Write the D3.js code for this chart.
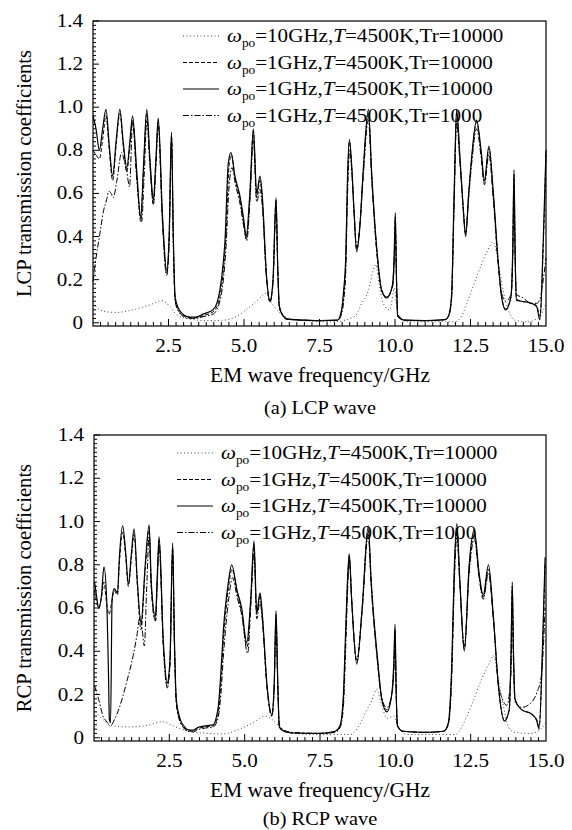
<!DOCTYPE html>
<html>
<head>
<meta charset="utf-8">
<script src="https://cdn.jsdelivr.net/npm/d3@7"></script>
<style>
  body { margin: 0; background: #fff; }
  text { font-family: "Liberation Serif", "Times New Roman", serif; fill: #000; }
</style>
</head>
<body>
<svg id="svg" width="572" height="830"></svg>
<script>
// values: [frequency GHz, transmission]
const lcpDotted = [[0,0.09],[0.23,0.06],[0.5,0.05],[0.78,0.048],[1.31,0.06],[1.89,0.083],[2.27,0.103],[2.55,0.075],[2.77,0.037],[3.21,0.017],[3.77,0.01],[4.33,0.012],[4.76,0.03],[5.2,0.075],[5.53,0.115],[5.7,0.137],[5.92,0.09],[6.19,0.045],[6.5,0.02],[7.0,0.01],[8.0,0.005],[8.67,0.03],[8.9,0.09],[9.12,0.15],[9.28,0.245],[9.37,0.27],[9.44,0.21],[9.61,0.09],[9.83,0.06],[9.98,0.16],[10.1,0.03],[10.4,0.005],[12.0,0.005],[12.2,0.03],[12.42,0.105],[12.75,0.23],[13.08,0.34],[13.25,0.376],[13.42,0.28],[13.58,0.15],[13.75,0.06],[13.97,0.012],[14.4,0.005],[14.8,0.03],[15.0,0.09]];

const lcpDashed = [[0,0.80],[0.1,0.78],[0.21,0.76],[0.32,0.85],[0.43,0.96],[0.54,0.8],[0.65,0.66],[0.77,0.83],[0.89,0.97],[1.0,0.82],[1.12,0.70],[1.22,0.82],[1.31,0.94],[1.45,0.68],[1.58,0.47],[1.68,0.73],[1.78,0.97],[1.89,0.73],[2.0,0.55],[2.08,0.73],[2.16,0.93],[2.3,0.48],[2.44,0.23],[2.52,0.38],[2.6,0.87],[2.66,0.38],[2.72,0.11],[2.82,0.06],[2.94,0.04],[3.1,0.025],[3.3,0.022],[3.5,0.025],[3.64,0.033],[3.97,0.05],[4.1,0.075],[4.2,0.12],[4.3,0.22],[4.4,0.4],[4.5,0.72],[4.58,0.78],[4.7,0.67],[4.87,0.57],[5.0,0.45],[5.08,0.39],[5.2,0.6],[5.31,0.89],[5.42,0.58],[5.53,0.66],[5.6,0.58],[5.75,0.2],[5.86,0.095],[5.96,0.19],[6.06,0.57],[6.12,0.24],[6.17,0.07],[6.3,0.03],[6.41,0.017],[7.0,0.012],[7.5,0.01],[8.1,0.012],[8.23,0.05],[8.3,0.13],[8.37,0.28],[8.43,0.66],[8.49,0.84],[8.57,0.71],[8.65,0.5],[8.73,0.34],[8.84,0.46],[8.94,0.68],[9.12,0.97],[9.23,0.68],[9.4,0.33],[9.56,0.15],[9.73,0.12],[9.91,0.17],[9.97,0.29],[10.01,0.49],[10.05,0.2],[10.09,0.03],[10.33,0.012],[11.0,0.01],[11.66,0.015],[11.77,0.03],[11.87,0.11],[11.96,0.59],[12.04,0.97],[12.15,0.76],[12.25,0.55],[12.34,0.41],[12.44,0.6],[12.54,0.76],[12.70,0.93],[12.85,0.79],[12.96,0.65],[13.11,0.81],[13.25,0.6],[13.42,0.27],[13.53,0.12],[13.66,0.065],[13.84,0.12],[13.9,0.34],[13.94,0.69],[13.98,0.3],[14.02,0.11],[14.19,0.1],[14.52,0.09],[14.69,0.08],[14.8,0.03],[14.91,0.36],[15.0,0.78]];

const lcpSolid = [[0,0.96],[0.1,0.9],[0.21,0.80],[0.32,0.9],[0.43,0.99],[0.54,0.82],[0.65,0.68],[0.77,0.85],[0.89,0.99],[1.0,0.84],[1.12,0.72],[1.22,0.84],[1.31,0.96],[1.45,0.7],[1.58,0.49],[1.68,0.75],[1.78,0.99],[1.89,0.75],[2.0,0.57],[2.08,0.75],[2.16,0.95],[2.3,0.5],[2.44,0.245],[2.52,0.4],[2.6,0.885],[2.66,0.4],[2.72,0.12],[2.82,0.07],[2.94,0.045],[3.1,0.03],[3.3,0.026],[3.5,0.03],[3.64,0.04],[3.97,0.06],[4.1,0.09],[4.2,0.15],[4.3,0.26],[4.37,0.38],[4.48,0.74],[4.57,0.79],[4.7,0.68],[4.87,0.585],[5.0,0.47],[5.07,0.40],[5.2,0.615],[5.31,0.90],[5.42,0.6],[5.53,0.68],[5.6,0.6],[5.75,0.21],[5.86,0.10],[5.96,0.2],[6.06,0.58],[6.12,0.25],[6.17,0.075],[6.3,0.03],[6.41,0.017],[7.0,0.012],[7.5,0.01],[8.1,0.012],[8.23,0.06],[8.3,0.15],[8.37,0.31],[8.43,0.69],[8.49,0.85],[8.57,0.72],[8.65,0.5],[8.73,0.33],[8.84,0.45],[8.94,0.69],[9.12,0.99],[9.23,0.69],[9.4,0.34],[9.56,0.15],[9.73,0.115],[9.91,0.17],[9.97,0.3],[10.01,0.51],[10.05,0.2],[10.09,0.03],[10.33,0.012],[11.0,0.01],[11.66,0.015],[11.77,0.03],[11.87,0.12],[11.96,0.615],[12.04,0.99],[12.15,0.77],[12.25,0.55],[12.34,0.40],[12.44,0.6],[12.54,0.77],[12.70,0.94],[12.85,0.8],[12.96,0.66],[13.11,0.82],[13.25,0.615],[13.42,0.28],[13.53,0.12],[13.66,0.06],[13.84,0.12],[13.9,0.35],[13.94,0.71],[13.98,0.3],[14.02,0.105],[14.19,0.1],[14.52,0.09],[14.69,0.075],[14.8,0.014],[14.91,0.385],[15.0,0.8]];

const lcpDashDot = [[0,0.19],[0.1,0.3],[0.23,0.415],[0.35,0.52],[0.45,0.57],[0.52,0.61],[0.6,0.6],[0.67,0.58],[0.78,0.65],[0.95,0.79],[1.0,0.77],[1.12,0.7],[1.21,0.63],[1.31,0.93],[1.45,0.66],[1.61,0.47],[1.7,0.7],[1.78,0.94],[1.89,0.72],[2.0,0.55],[2.08,0.72],[2.16,0.91],[2.3,0.46],[2.44,0.22],[2.52,0.36],[2.6,0.85],[2.66,0.36],[2.72,0.1],[2.82,0.055],[2.94,0.035],[3.1,0.022],[3.3,0.02],[3.5,0.022],[3.64,0.028],[3.97,0.04],[4.1,0.06],[4.2,0.1],[4.3,0.18],[4.4,0.34],[4.5,0.62],[4.6,0.72],[4.72,0.64],[4.87,0.55],[5.0,0.44],[5.09,0.38],[5.2,0.57],[5.31,0.85],[5.42,0.56],[5.53,0.62],[5.6,0.55],[5.75,0.2],[5.86,0.1],[5.96,0.18],[6.06,0.52],[6.12,0.23],[6.17,0.08],[6.3,0.035],[6.41,0.02],[7.0,0.012],[7.5,0.01],[8.1,0.012],[8.23,0.04],[8.3,0.1],[8.37,0.24],[8.43,0.6],[8.5,0.8],[8.57,0.7],[8.65,0.5],[8.73,0.35],[8.84,0.46],[8.94,0.66],[9.12,0.94],[9.23,0.66],[9.4,0.32],[9.56,0.15],[9.73,0.12],[9.91,0.16],[9.97,0.26],[10.01,0.42],[10.05,0.2],[10.09,0.04],[10.33,0.012],[11.0,0.01],[11.66,0.015],[11.77,0.03],[11.87,0.1],[11.96,0.55],[12.04,0.93],[12.15,0.74],[12.25,0.55],[12.34,0.42],[12.44,0.58],[12.54,0.74],[12.70,0.9],[12.85,0.77],[12.96,0.64],[13.11,0.78],[13.25,0.58],[13.42,0.27],[13.53,0.14],[13.66,0.1],[13.84,0.13],[13.9,0.3],[13.94,0.6],[13.98,0.3],[14.02,0.13],[14.19,0.12],[14.52,0.09],[14.69,0.09],[14.8,0.11],[14.91,0.2],[15.0,0.3]];

const rcpDotted = [[0.05,0.12],[0.33,0.08],[0.6,0.055],[1.2,0.05],[1.86,0.06],[2.25,0.074],[2.63,0.055],[2.9,0.04],[3.4,0.025],[4.3,0.018],[4.83,0.04],[5.28,0.07],[5.68,0.10],[5.95,0.08],[6.25,0.04],[6.6,0.02],[7.5,0.015],[8.5,0.015],[8.77,0.05],[8.99,0.11],[9.27,0.19],[9.37,0.225],[9.55,0.15],[9.72,0.09],[9.95,0.1],[10.1,0.05],[10.4,0.015],[12.0,0.015],[12.2,0.05],[12.53,0.15],[12.86,0.27],[13.14,0.35],[13.25,0.38],[13.42,0.27],[13.58,0.15],[13.75,0.05],[13.97,0.025],[14.5,0.02],[14.9,0.05],[15.0,0.07]];

const rcpDashed = [[0.02,0.68],[0.08,0.63],[0.16,0.6],[0.25,0.65],[0.33,0.72],[0.42,0.62],[0.5,0.57],[0.58,0.62],[0.67,0.68],[0.78,0.66],[0.84,0.8],[0.95,0.95],[1.05,0.84],[1.14,0.7],[1.24,0.83],[1.33,0.94],[1.44,0.7],[1.56,0.5],[1.7,0.78],[1.83,0.96],[1.9,0.7],[2.04,0.54],[2.1,0.73],[2.16,0.91],[2.3,0.43],[2.43,0.24],[2.52,0.34],[2.61,0.88],[2.67,0.43],[2.73,0.17],[2.85,0.08],[2.98,0.05],[3.1,0.033],[3.3,0.03],[3.41,0.04],[3.7,0.05],[3.96,0.055],[4.05,0.075],[4.13,0.12],[4.21,0.25],[4.29,0.44],[4.46,0.69],[4.58,0.78],[4.75,0.67],[4.9,0.58],[5.08,0.42],[5.2,0.62],[5.31,0.89],[5.4,0.57],[5.51,0.66],[5.58,0.57],[5.75,0.22],[5.9,0.1],[5.98,0.24],[6.04,0.57],[6.1,0.24],[6.15,0.05],[6.3,0.03],[6.6,0.022],[7.5,0.02],[8.0,0.028],[8.16,0.05],[8.27,0.16],[8.35,0.46],[8.42,0.73],[8.47,0.84],[8.55,0.64],[8.72,0.35],[8.9,0.6],[9.1,0.96],[9.2,0.71],[9.4,0.37],[9.55,0.18],[9.72,0.13],[9.88,0.2],[9.95,0.33],[9.99,0.5],[10.03,0.2],[10.07,0.055],[10.25,0.03],[11.0,0.025],[11.6,0.03],[11.76,0.065],[11.87,0.3],[11.96,0.77],[12.04,0.97],[12.14,0.72],[12.29,0.41],[12.45,0.78],[12.62,0.94],[12.78,0.75],[12.92,0.65],[13.09,0.78],[13.25,0.56],[13.42,0.24],[13.62,0.08],[13.78,0.13],[13.84,0.38],[13.88,0.7],[13.92,0.4],[13.97,0.18],[14.19,0.13],[14.52,0.11],[14.69,0.085],[14.77,0.05],[14.89,0.42],[14.97,0.81]];

const rcpSolid = [[0.02,0.72],[0.08,0.66],[0.16,0.6],[0.25,0.66],[0.33,0.79],[0.42,0.64],[0.48,0.3],[0.51,0.085],[0.55,0.07],[0.6,0.64],[0.67,0.69],[0.78,0.67],[0.84,0.83],[0.95,0.98],[1.05,0.86],[1.14,0.71],[1.24,0.85],[1.33,0.966],[1.44,0.72],[1.56,0.53],[1.7,0.8],[1.83,0.985],[1.9,0.72],[2.04,0.56],[2.1,0.75],[2.16,0.93],[2.3,0.45],[2.43,0.255],[2.52,0.36],[2.61,0.90],[2.67,0.45],[2.73,0.18],[2.85,0.09],[2.98,0.055],[3.1,0.038],[3.3,0.035],[3.41,0.045],[3.7,0.055],[3.96,0.06],[4.05,0.09],[4.13,0.15],[4.21,0.3],[4.29,0.49],[4.46,0.72],[4.57,0.80],[4.75,0.68],[4.9,0.6],[5.07,0.44],[5.2,0.64],[5.31,0.91],[5.4,0.58],[5.51,0.67],[5.58,0.58],[5.75,0.23],[5.9,0.108],[5.98,0.25],[6.04,0.587],[6.1,0.25],[6.15,0.05],[6.3,0.03],[6.6,0.022],[7.5,0.02],[8.0,0.03],[8.16,0.054],[8.27,0.18],[8.35,0.49],[8.42,0.75],[8.47,0.85],[8.55,0.64],[8.72,0.34],[8.9,0.6],[9.1,0.98],[9.2,0.72],[9.4,0.38],[9.55,0.18],[9.72,0.12],[9.88,0.2],[9.95,0.35],[9.99,0.525],[10.03,0.2],[10.07,0.054],[10.25,0.03],[11.0,0.025],[11.6,0.03],[11.76,0.07],[11.87,0.33],[11.96,0.80],[12.04,0.99],[12.14,0.73],[12.29,0.40],[12.45,0.8],[12.62,0.96],[12.78,0.76],[12.92,0.66],[13.09,0.80],[13.25,0.57],[13.42,0.24],[13.62,0.077],[13.78,0.13],[13.84,0.4],[13.88,0.72],[13.92,0.4],[13.97,0.18],[14.19,0.13],[14.52,0.11],[14.69,0.08],[14.77,0.04],[14.89,0.45],[14.97,0.835]];

const rcpDashDot = [[0.02,0.24],[0.15,0.18],[0.3,0.1],[0.45,0.07],[0.53,0.054],[0.7,0.09],[0.86,0.147],[1.08,0.255],[1.3,0.38],[1.42,0.47],[1.53,0.56],[1.6,0.5],[1.67,0.425],[1.75,0.7],[1.83,0.93],[1.9,0.7],[2.04,0.54],[2.1,0.72],[2.16,0.89],[2.3,0.42],[2.43,0.23],[2.52,0.33],[2.61,0.85],[2.67,0.42],[2.73,0.16],[2.85,0.075],[2.98,0.045],[3.1,0.03],[3.3,0.027],[3.41,0.035],[3.7,0.045],[3.96,0.05],[4.05,0.065],[4.13,0.1],[4.21,0.2],[4.29,0.37],[4.46,0.63],[4.6,0.74],[4.75,0.65],[4.9,0.57],[5.1,0.39],[5.2,0.6],[5.31,0.85],[5.4,0.55],[5.51,0.63],[5.58,0.55],[5.75,0.22],[5.9,0.1],[5.98,0.22],[6.04,0.52],[6.1,0.24],[6.15,0.06],[6.3,0.035],[6.6,0.025],[7.5,0.02],[8.0,0.025],[8.16,0.045],[8.27,0.13],[8.35,0.4],[8.42,0.69],[8.48,0.82],[8.55,0.64],[8.72,0.36],[8.9,0.59],[9.1,0.94],[9.2,0.7],[9.4,0.36],[9.55,0.18],[9.72,0.14],[9.88,0.2],[9.95,0.3],[9.99,0.44],[10.03,0.2],[10.07,0.06],[10.25,0.03],[11.0,0.025],[11.6,0.03],[11.76,0.06],[11.87,0.27],[11.96,0.72],[12.04,0.93],[12.14,0.71],[12.29,0.42],[12.45,0.76],[12.62,0.92],[12.78,0.74],[12.92,0.64],[13.09,0.76],[13.25,0.55],[13.42,0.25],[13.55,0.18],[13.7,0.15],[13.84,0.3],[13.88,0.6],[13.92,0.35],[13.97,0.17],[14.19,0.14],[14.4,0.15],[14.7,0.21],[14.85,0.29],[14.97,0.6]];

const xTicks = [2.5, 5.0, 7.5, 10.0, 12.5, 15.0];
const yTicks = [0, 0.2, 0.4, 0.6, 0.8, 1.0, 1.2, 1.4];
const legendW = ['10GHz', '1GHz', '1GHz', '1GHz'];
const legendTr = ['10000', '10000', '10000', '1000'];

// line styles: dotted, dashed, solid, dash-dot
const styles = [
	{ dash: '1,2.5', color: '#444', width: 1 },
	{ dash: '4,2', color: '#000', width: 1 },
	{ dash: null, color: '#000', width: 1.2 },
	{ dash: '6,2,1.5,2', color: '#000', width: 1 },
];

const svg = d3.select('svg');
const stretch = 1.11; // the source font is set a little wide

// text placed at (x,y) and widened a bit
function label(g, x, y, size, anchor, sx) {
	return g
		.append('text')
		.attr('transform', `translate(${x},${y}) scale(${sx || stretch},1)`)
		.attr('text-anchor', anchor)
		.attr('font-size', size);
}

function drawPanel(p) {
	const x = d3.scaleLinear().domain([0, 15]).range([p.left, p.right]);
	const y = d3.scaleLinear().domain([-0.015, 1.4]).range([p.bottom, p.top]);
	const g = svg.append('g');

	// minor ticks
	g.selectAll('.xm')
		.data(d3.range(0.25, 15, 0.25))
		.enter()
		.append('line')
		.attr('x1', (d) => x(d))
		.attr('x2', (d) => x(d))
		.attr('y1', p.bottom)
		.attr('y2', (d) => (Math.abs(d / 2.5 - Math.round(d / 2.5)) < 1e-6 ? p.bottom - 7 : p.bottom - 4))
		.attr('stroke', '#000');
	g.selectAll('.ym')
		.data(d3.range(0, 1.4001, 0.02))
		.enter()
		.append('line')
		.attr('x1', p.left)
		.attr('x2', (d) => (Math.abs(d / 0.2 - Math.round(d / 0.2)) < 1e-6 ? p.left + 6 : p.left + 3))
		.attr('y1', (d) => y(d))
		.attr('y2', (d) => y(d))
		.attr('stroke', '#000');

	const line = d3
		.line()
		.curve(d3.curveMonotoneX)
		.x((d) => x(d[0]))
		.y((d) => y(d[1]));

	p.series.forEach((s, i) => {
		g.append('path')
			.attr('d', line(s))
			.attr('fill', 'none')
			.attr('stroke', styles[i].color)
			.attr('stroke-width', styles[i].width)
			.attr('stroke-dasharray', styles[i].dash)
			.attr('stroke-linejoin', 'round');
	});

	// frame
	g.append('rect')
		.attr('x', p.left)
		.attr('y', p.top)
		.attr('width', p.right - p.left)
		.attr('height', p.bottom - p.top)
		.attr('fill', 'none')
		.attr('stroke', '#000')
		.attr('stroke-width', 1.2);

	// tick labels
	xTicks.forEach((d) => {
		label(g, x(d), p.bottom + 26, 19, 'middle').text(d.toFixed(1));
	});
	yTicks.forEach((d) => {
		label(g, p.left - 10, y(d) + 6, 19, 'end').text(d === 0 ? '0' : d.toFixed(1));
	});

	label(g, 320, p.bottom + 56, 20, 'middle', 1.07).text('EM wave frequency/GHz');
	g.append('text')
		.attr('transform', `translate(31,${(p.top + p.bottom) / 2}) rotate(-90) scale(1.03,1)`)
		.attr('text-anchor', 'middle')
		.attr('font-size', 20)
		.text(p.ylabel);
	label(g, 320, p.bottom + p.captionDy, 19, 'middle', 1.07).text(p.caption);

	// legend
	legendW.forEach((w, i) => {
		const ly = p.legendY + i * 26.5;
		g.append('line')
			.attr('x1', p.legendX)
			.attr('x2', p.legendX + 36)
			.attr('y1', ly)
			.attr('y2', ly)
			.attr('stroke', styles[i].color)
			.attr('stroke-width', styles[i].width)
			.attr('stroke-dasharray', styles[i].dash);
		const t = label(g, p.legendX + 44, ly + 6, 19, 'start');
		t.append('tspan').attr('font-style', 'italic').text('ω');
		t.append('tspan').attr('font-size', 12).attr('dy', 5).text('po');
		t.append('tspan').attr('dy', -5).text(`=${w},`);
		t.append('tspan').attr('font-style', 'italic').text('T');
		t.append('tspan').text(`=4500K,Tr=${legendTr[i]}`);
	});
}

drawPanel({
	left: 93, right: 546, top: 21, bottom: 326,
	series: [lcpDotted, lcpDashed, lcpSolid, lcpDashDot],
	ylabel: 'LCP transmission coefficients',
	caption: '(a) LCP wave',
	captionDy: 88,
	legendX: 183, legendY: 36,
});
drawPanel({
	left: 94, right: 546, top: 435, bottom: 741,
	series: [rcpDotted, rcpDashed, rcpSolid, rcpDashDot],
	ylabel: 'RCP transmission coefficients',
	caption: '(b) RCP wave',
	captionDy: 84,
	legendX: 177, legendY: 453,
});
</script>
</body>
</html>
